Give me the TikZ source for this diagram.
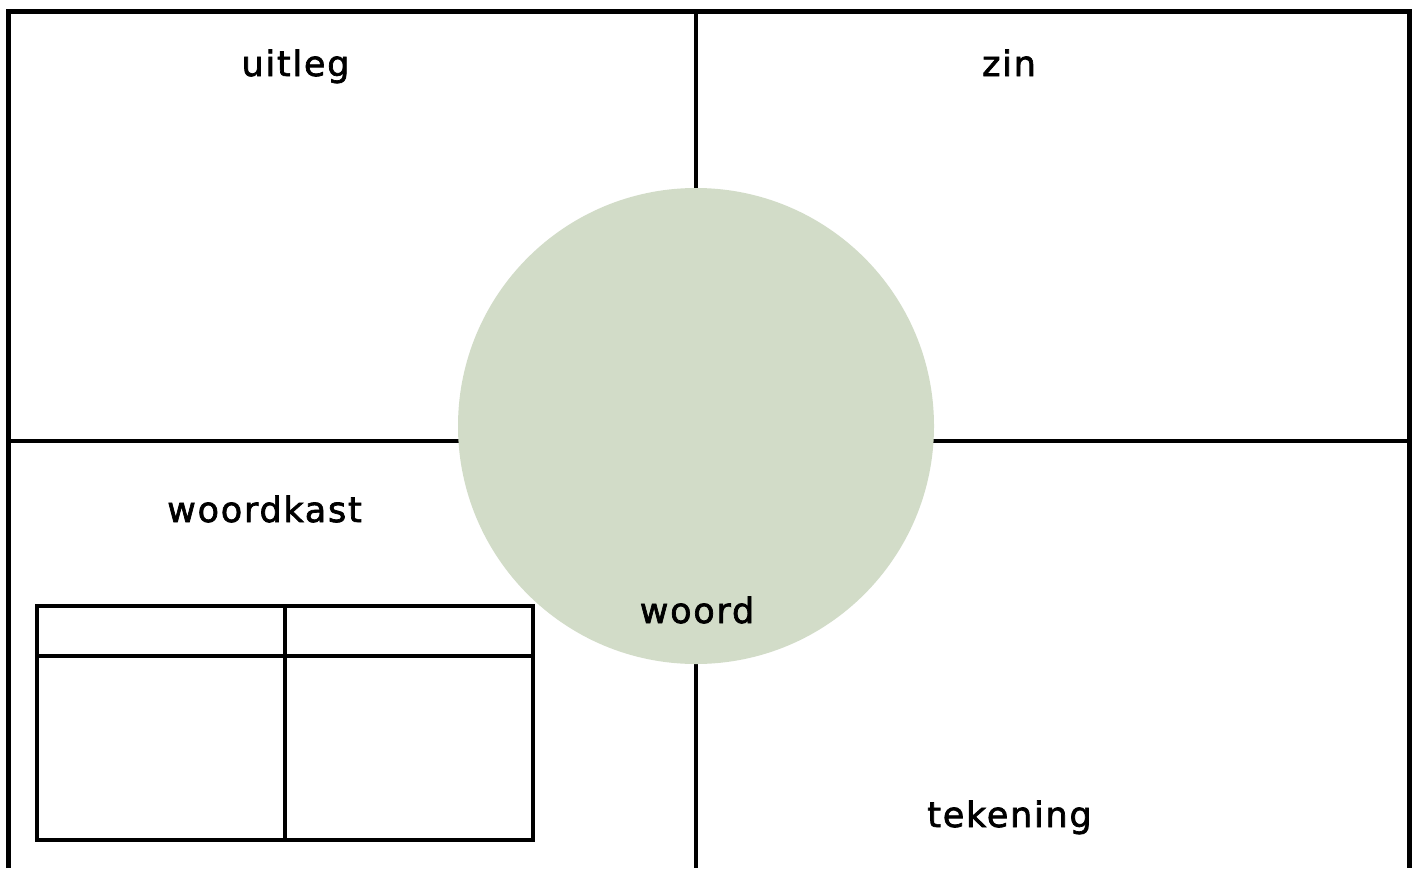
\documentclass[tikz,border=0pt]{standalone}
\usepackage{fontspec}
\setmainfont{DejaVu Sans}
\newfontfamily\handfont[LetterSpace=5,FakeBold=2]{DejaVu Sans}
\definecolor{sage}{HTML}{D2DCC8}

\begin{document}
\begin{tikzpicture}[x=1pt,y=-1pt,line width=4.3pt,
    lbl/.style={anchor=base,inner sep=0pt,font=\handfont\fontsize{35}{40}\selectfont}]
    \useasboundingbox (0,0) rectangle (1418,868);

    % Define the corners of the frame
    \coordinate (BL) at (8.5,868);
    \coordinate (TL) at (8.5,11.5);
    \coordinate (TR) at (1409.5,11.5);
    \coordinate (BR) at (1409.5,868);
    \coordinate (T) at (696,11.5);
    \coordinate (B) at (696,868);
    \coordinate (L) at (8.5,441);
    \coordinate (R) at (1409.5,441);
    \coordinate (M) at (696,426);

    % Draw the frame and the cross
    \draw (BL) -- (TL) -- (TR) -- (BR);
    \draw (T) -- (B);
    \draw (L) -- (R);

    % Draw the circle in the middle
    \fill[sage] (M) circle (238);

    % Draw the small table
    \coordinate (K1) at (37,606);
    \coordinate (K2) at (533,840);
    \draw (K1) rectangle (K2);
    \draw (285,606) -- (285,840);
    \draw (37,656) -- (533,656);

    % Place the labels
    \node[lbl] (uitleg) at (295.5,76) {uitleg};
    \node[lbl] (zin) at (1009,76) {zin};
    \node[lbl] (woordkast) at (264.5,522) {woordkast};
    \node[lbl] (woord) at (697,623) {woord};
    \node[lbl] (tekening) at (1009.5,827) {tekening};

\end{tikzpicture}
\end{document}
